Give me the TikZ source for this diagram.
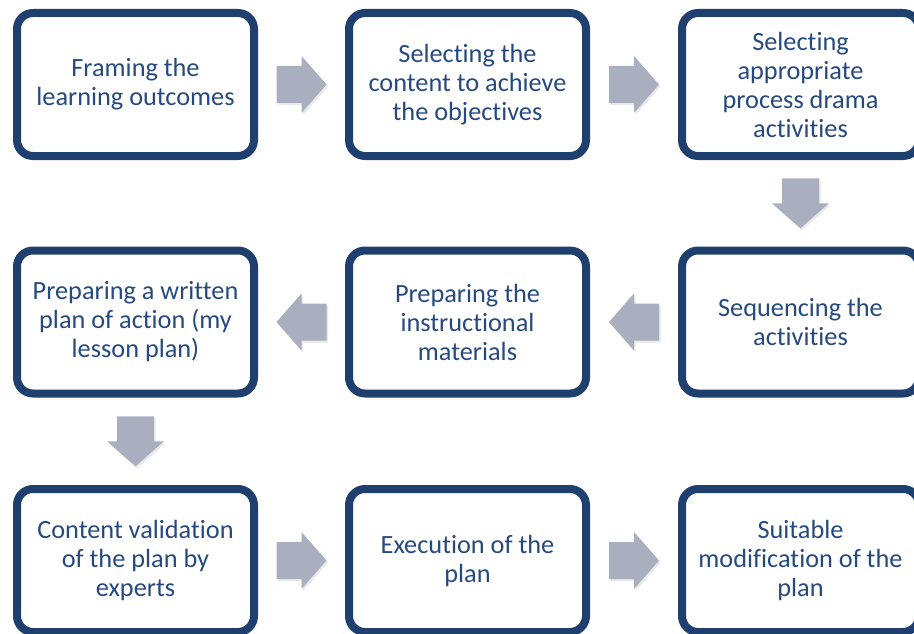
\documentclass[tikz,border=0pt]{standalone}
\usepackage{fontspec}
\setmainfont{Carlito}[Ligatures={NoCommon}]
\usetikzlibrary{shadows,calc}
\definecolor{navy}{HTML}{1F3F6F}
\definecolor{txt}{HTML}{264A80}
\definecolor{arr}{HTML}{A9AFBF}
\begin{document}
\begin{tikzpicture}[x=1pt,y=1pt,
  stepbox/.style={draw=navy, line width=8pt, rounded corners=16pt, fill=white,
    minimum width=237pt, minimum height=143pt, inner sep=0pt, align=center,
    font=\fontsize{26.3}{29}\selectfont, text=txt,
    drop shadow={opacity=0.22, shadow xshift=1pt, shadow yshift=-3pt}},
  blockarrow/.pic={\fill[arr, drop shadow={opacity=0.18, shadow xshift=1.5pt, shadow yshift=-2pt}]
    (-25,-18.5) -- (0,-18.5) -- (0,-28.5) -- (25,0) -- (0,28.5) -- (0,18.5) -- (-25,18.5) -- cycle;}]
\useasboundingbox (0,0) rectangle (914,-634);
\clip (0,0) rectangle (914,-634);
\node[stepbox] (b1) at (135.5,-84.5) {Framing the\\learning outcomes};
\node[stepbox] (b2) at (467.5,-84.5) {Selecting the\\content to achieve\\the objectives};
\node[stepbox] (b3) at (800.5,-84.5) {Selecting\\appropriate\\process drama\\activities};
\node[stepbox] (b4) at (800.5,-322) {Sequencing the\\activities};
\node[stepbox] (b5) at (467.5,-322) {Preparing the\\instructional\\materials};
\node[stepbox] (b6) at (135.5,-322) {Preparing a written\\plan of action (my\\lesson plan)};
\node[stepbox] (b7) at (135.5,-560.5) {Content validation\\of the plan by\\experts};
\node[stepbox] (b8) at (467.5,-560.5) {Execution of the\\plan};
\node[stepbox] (b9) at (800.5,-560.5) {Suitable\\modification of the\\plan};
\pic at ($(b1.east)!0.5!(b2.west)$) {blockarrow};
\pic at ($(b2.east)!0.5!(b3.west)$) {blockarrow};
\pic[rotate=-90] at ($(b3.south)!0.5!(b4.north)$) {blockarrow};
\pic[rotate=180] at ($(b4.west)!0.5!(b5.east)$) {blockarrow};
\pic[rotate=180] at ($(b5.west)!0.5!(b6.east)$) {blockarrow};
\pic[rotate=-90] at ($(b6.south)!0.5!(b7.north)$) {blockarrow};
\pic at ($(b7.east)!0.5!(b8.west)$) {blockarrow};
\pic at ($(b8.east)!0.5!(b9.west)$) {blockarrow};
\end{tikzpicture}
\end{document}
